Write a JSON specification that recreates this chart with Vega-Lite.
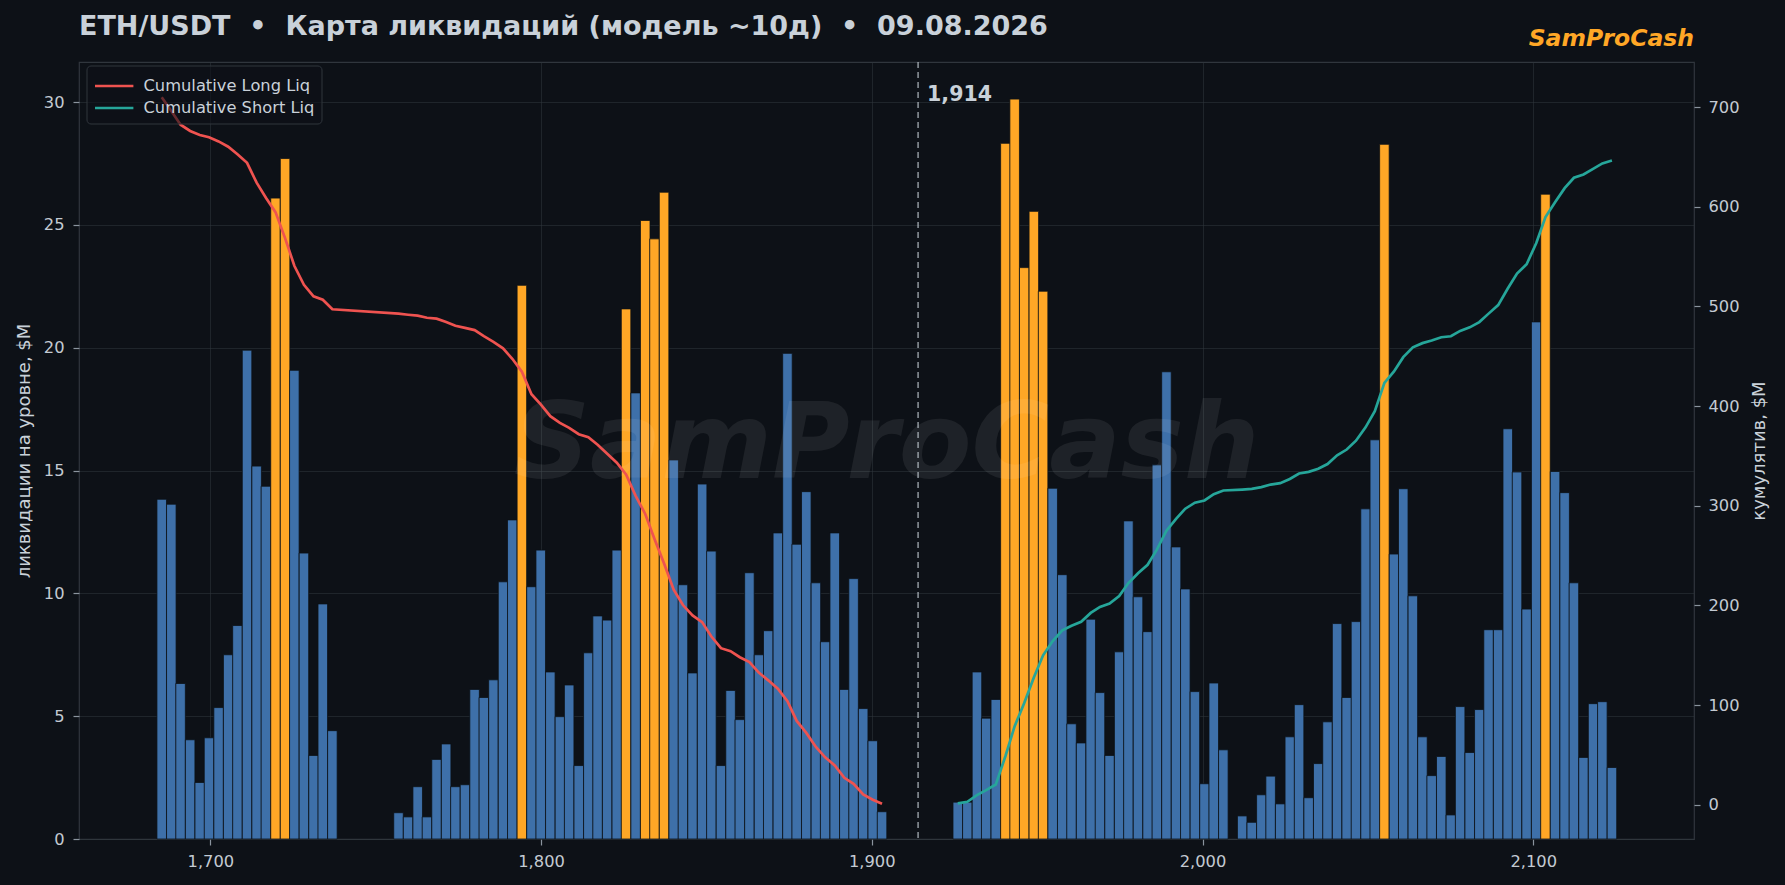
{
  "$schema": "https://vega.github.io/schema/vega-lite/v6.json",
  "width": 1615,
  "height": 777,
  "autosize": {"type": "none"},
  "padding": {"left": 79, "top": 62, "right": 91, "bottom": 46},
  "background": "#0d1117",
  "datasets": {
    "bins": [
      {"price": 1685.3, "liq": 13.83, "cum": 709.81, "series": "Cumulative Long Liq"},
      {"price": 1688.2, "liq": 13.63, "cum": 695.98, "series": "Cumulative Long Liq"},
      {"price": 1691.0, "liq": 6.33, "cum": 682.35, "series": "Cumulative Long Liq"},
      {"price": 1693.9, "liq": 4.04, "cum": 676.02, "series": "Cumulative Long Liq"},
      {"price": 1696.8, "liq": 2.30, "cum": 671.98, "series": "Cumulative Long Liq"},
      {"price": 1699.6, "liq": 4.12, "cum": 669.68, "series": "Cumulative Long Liq"},
      {"price": 1702.5, "liq": 5.35, "cum": 665.56, "series": "Cumulative Long Liq"},
      {"price": 1705.4, "liq": 7.50, "cum": 660.21, "series": "Cumulative Long Liq"},
      {"price": 1708.2, "liq": 8.69, "cum": 652.71, "series": "Cumulative Long Liq"},
      {"price": 1711.1, "liq": 19.90, "cum": 644.02, "series": "Cumulative Long Liq"},
      {"price": 1714.0, "liq": 15.18, "cum": 624.12, "series": "Cumulative Long Liq"},
      {"price": 1716.8, "liq": 14.36, "cum": 608.94, "series": "Cumulative Long Liq"},
      {"price": 1719.7, "liq": 26.09, "cum": 594.58, "series": "Cumulative Long Liq"},
      {"price": 1722.6, "liq": 27.70, "cum": 568.49, "series": "Cumulative Long Liq"},
      {"price": 1725.4, "liq": 19.08, "cum": 540.79, "series": "Cumulative Long Liq"},
      {"price": 1728.3, "liq": 11.64, "cum": 521.71, "series": "Cumulative Long Liq"},
      {"price": 1731.2, "liq": 3.40, "cum": 510.07, "series": "Cumulative Long Liq"},
      {"price": 1734.0, "liq": 9.57, "cum": 506.67, "series": "Cumulative Long Liq"},
      {"price": 1736.9, "liq": 4.41, "cum": 497.10, "series": "Cumulative Long Liq"},
      {"price": 1756.9, "liq": 1.07, "cum": 492.69, "series": "Cumulative Long Liq"},
      {"price": 1759.8, "liq": 0.90, "cum": 491.62, "series": "Cumulative Long Liq"},
      {"price": 1762.7, "liq": 2.13, "cum": 490.72, "series": "Cumulative Long Liq"},
      {"price": 1765.5, "liq": 0.90, "cum": 488.59, "series": "Cumulative Long Liq"},
      {"price": 1768.4, "liq": 3.24, "cum": 487.69, "series": "Cumulative Long Liq"},
      {"price": 1771.3, "liq": 3.87, "cum": 484.45, "series": "Cumulative Long Liq"},
      {"price": 1774.1, "liq": 2.13, "cum": 480.58, "series": "Cumulative Long Liq"},
      {"price": 1777.0, "liq": 2.21, "cum": 478.45, "series": "Cumulative Long Liq"},
      {"price": 1779.9, "liq": 6.09, "cum": 476.24, "series": "Cumulative Long Liq"},
      {"price": 1782.7, "liq": 5.76, "cum": 470.15, "series": "Cumulative Long Liq"},
      {"price": 1785.6, "liq": 6.48, "cum": 464.39, "series": "Cumulative Long Liq"},
      {"price": 1788.5, "liq": 10.47, "cum": 457.91, "series": "Cumulative Long Liq"},
      {"price": 1791.3, "liq": 12.99, "cum": 447.44, "series": "Cumulative Long Liq"},
      {"price": 1794.2, "liq": 22.54, "cum": 434.45, "series": "Cumulative Long Liq"},
      {"price": 1797.1, "liq": 10.27, "cum": 411.91, "series": "Cumulative Long Liq"},
      {"price": 1799.9, "liq": 11.76, "cum": 401.64, "series": "Cumulative Long Liq"},
      {"price": 1802.8, "liq": 6.80, "cum": 389.88, "series": "Cumulative Long Liq"},
      {"price": 1805.7, "liq": 4.98, "cum": 383.08, "series": "Cumulative Long Liq"},
      {"price": 1808.5, "liq": 6.27, "cum": 378.10, "series": "Cumulative Long Liq"},
      {"price": 1811.4, "liq": 2.99, "cum": 371.83, "series": "Cumulative Long Liq"},
      {"price": 1814.3, "liq": 7.58, "cum": 368.84, "series": "Cumulative Long Liq"},
      {"price": 1817.1, "liq": 9.08, "cum": 361.26, "series": "Cumulative Long Liq"},
      {"price": 1820.0, "liq": 8.91, "cum": 352.18, "series": "Cumulative Long Liq"},
      {"price": 1822.9, "liq": 11.76, "cum": 343.27, "series": "Cumulative Long Liq"},
      {"price": 1825.7, "liq": 21.58, "cum": 331.51, "series": "Cumulative Long Liq"},
      {"price": 1828.6, "liq": 18.16, "cum": 309.93, "series": "Cumulative Long Liq"},
      {"price": 1831.5, "liq": 25.18, "cum": 291.77, "series": "Cumulative Long Liq"},
      {"price": 1834.3, "liq": 24.43, "cum": 266.59, "series": "Cumulative Long Liq"},
      {"price": 1837.2, "liq": 26.33, "cum": 242.16, "series": "Cumulative Long Liq"},
      {"price": 1840.1, "liq": 15.43, "cum": 215.83, "series": "Cumulative Long Liq"},
      {"price": 1842.9, "liq": 10.35, "cum": 200.40, "series": "Cumulative Long Liq"},
      {"price": 1845.8, "liq": 6.76, "cum": 190.05, "series": "Cumulative Long Liq"},
      {"price": 1848.7, "liq": 14.45, "cum": 183.29, "series": "Cumulative Long Liq"},
      {"price": 1851.5, "liq": 11.72, "cum": 168.84, "series": "Cumulative Long Liq"},
      {"price": 1854.4, "liq": 2.99, "cum": 157.12, "series": "Cumulative Long Liq"},
      {"price": 1857.3, "liq": 6.05, "cum": 154.13, "series": "Cumulative Long Liq"},
      {"price": 1860.1, "liq": 4.86, "cum": 148.08, "series": "Cumulative Long Liq"},
      {"price": 1863.0, "liq": 10.84, "cum": 143.22, "series": "Cumulative Long Liq"},
      {"price": 1865.9, "liq": 7.50, "cum": 132.38, "series": "Cumulative Long Liq"},
      {"price": 1868.7, "liq": 8.48, "cum": 124.88, "series": "Cumulative Long Liq"},
      {"price": 1871.6, "liq": 12.46, "cum": 116.40, "series": "Cumulative Long Liq"},
      {"price": 1874.5, "liq": 19.77, "cum": 103.94, "series": "Cumulative Long Liq"},
      {"price": 1877.3, "liq": 12.00, "cum": 84.17, "series": "Cumulative Long Liq"},
      {"price": 1880.2, "liq": 14.14, "cum": 72.17, "series": "Cumulative Long Liq"},
      {"price": 1883.1, "liq": 10.43, "cum": 58.03, "series": "Cumulative Long Liq"},
      {"price": 1885.9, "liq": 8.03, "cum": 47.60, "series": "Cumulative Long Liq"},
      {"price": 1888.8, "liq": 12.46, "cum": 39.57, "series": "Cumulative Long Liq"},
      {"price": 1891.7, "liq": 6.09, "cum": 27.11, "series": "Cumulative Long Liq"},
      {"price": 1894.5, "liq": 10.60, "cum": 21.02, "series": "Cumulative Long Liq"},
      {"price": 1897.4, "liq": 5.31, "cum": 10.42, "series": "Cumulative Long Liq"},
      {"price": 1900.3, "liq": 4.00, "cum": 5.11, "series": "Cumulative Long Liq"},
      {"price": 1903.1, "liq": 1.11, "cum": 1.11, "series": "Cumulative Long Liq"},
      {"price": 1926.0, "liq": 1.50, "cum": 1.50, "series": "Cumulative Short Liq"},
      {"price": 1928.9, "liq": 1.50, "cum": 3.00, "series": "Cumulative Short Liq"},
      {"price": 1931.8, "liq": 6.80, "cum": 9.80, "series": "Cumulative Short Liq"},
      {"price": 1934.6, "liq": 4.92, "cum": 14.72, "series": "Cumulative Short Liq"},
      {"price": 1937.5, "liq": 5.68, "cum": 20.40, "series": "Cumulative Short Liq"},
      {"price": 1940.4, "liq": 28.32, "cum": 48.72, "series": "Cumulative Short Liq"},
      {"price": 1943.2, "liq": 30.12, "cum": 78.84, "series": "Cumulative Short Liq"},
      {"price": 1946.1, "liq": 23.26, "cum": 102.10, "series": "Cumulative Short Liq"},
      {"price": 1949.0, "liq": 25.55, "cum": 127.65, "series": "Cumulative Short Liq"},
      {"price": 1951.8, "liq": 22.30, "cum": 149.95, "series": "Cumulative Short Liq"},
      {"price": 1954.7, "liq": 14.28, "cum": 164.23, "series": "Cumulative Short Liq"},
      {"price": 1957.6, "liq": 10.76, "cum": 174.99, "series": "Cumulative Short Liq"},
      {"price": 1960.4, "liq": 4.69, "cum": 179.68, "series": "Cumulative Short Liq"},
      {"price": 1963.3, "liq": 3.91, "cum": 183.59, "series": "Cumulative Short Liq"},
      {"price": 1966.2, "liq": 8.95, "cum": 192.54, "series": "Cumulative Short Liq"},
      {"price": 1969.0, "liq": 5.96, "cum": 198.50, "series": "Cumulative Short Liq"},
      {"price": 1971.9, "liq": 3.40, "cum": 201.90, "series": "Cumulative Short Liq"},
      {"price": 1974.8, "liq": 7.62, "cum": 209.52, "series": "Cumulative Short Liq"},
      {"price": 1977.6, "liq": 12.95, "cum": 222.47, "series": "Cumulative Short Liq"},
      {"price": 1980.5, "liq": 9.86, "cum": 232.33, "series": "Cumulative Short Liq"},
      {"price": 1983.4, "liq": 8.44, "cum": 240.77, "series": "Cumulative Short Liq"},
      {"price": 1986.2, "liq": 15.23, "cum": 256.00, "series": "Cumulative Short Liq"},
      {"price": 1989.1, "liq": 19.02, "cum": 275.02, "series": "Cumulative Short Liq"},
      {"price": 1992.0, "liq": 11.89, "cum": 286.91, "series": "Cumulative Short Liq"},
      {"price": 1994.8, "liq": 10.18, "cum": 297.09, "series": "Cumulative Short Liq"},
      {"price": 1997.7, "liq": 6.00, "cum": 303.09, "series": "Cumulative Short Liq"},
      {"price": 2000.6, "liq": 2.25, "cum": 305.34, "series": "Cumulative Short Liq"},
      {"price": 2003.4, "liq": 6.35, "cum": 311.69, "series": "Cumulative Short Liq"},
      {"price": 2006.3, "liq": 3.63, "cum": 315.32, "series": "Cumulative Short Liq"},
      {"price": 2012.0, "liq": 0.94, "cum": 316.26, "series": "Cumulative Short Liq"},
      {"price": 2014.9, "liq": 0.68, "cum": 316.94, "series": "Cumulative Short Liq"},
      {"price": 2017.8, "liq": 1.80, "cum": 318.74, "series": "Cumulative Short Liq"},
      {"price": 2020.6, "liq": 2.56, "cum": 321.30, "series": "Cumulative Short Liq"},
      {"price": 2023.5, "liq": 1.43, "cum": 322.73, "series": "Cumulative Short Liq"},
      {"price": 2026.4, "liq": 4.16, "cum": 326.89, "series": "Cumulative Short Liq"},
      {"price": 2029.2, "liq": 5.47, "cum": 332.36, "series": "Cumulative Short Liq"},
      {"price": 2032.1, "liq": 1.68, "cum": 334.04, "series": "Cumulative Short Liq"},
      {"price": 2035.0, "liq": 3.07, "cum": 337.11, "series": "Cumulative Short Liq"},
      {"price": 2037.8, "liq": 4.77, "cum": 341.88, "series": "Cumulative Short Liq"},
      {"price": 2040.7, "liq": 8.77, "cum": 350.65, "series": "Cumulative Short Liq"},
      {"price": 2043.6, "liq": 5.76, "cum": 356.41, "series": "Cumulative Short Liq"},
      {"price": 2046.4, "liq": 8.85, "cum": 365.26, "series": "Cumulative Short Liq"},
      {"price": 2049.3, "liq": 13.44, "cum": 378.70, "series": "Cumulative Short Liq"},
      {"price": 2052.1, "liq": 16.25, "cum": 394.95, "series": "Cumulative Short Liq"},
      {"price": 2055.0, "liq": 28.28, "cum": 423.23, "series": "Cumulative Short Liq"},
      {"price": 2057.9, "liq": 11.60, "cum": 434.83, "series": "Cumulative Short Liq"},
      {"price": 2060.7, "liq": 14.26, "cum": 449.09, "series": "Cumulative Short Liq"},
      {"price": 2063.6, "liq": 9.90, "cum": 458.99, "series": "Cumulative Short Liq"},
      {"price": 2066.5, "liq": 4.16, "cum": 463.15, "series": "Cumulative Short Liq"},
      {"price": 2069.3, "liq": 2.58, "cum": 465.73, "series": "Cumulative Short Liq"},
      {"price": 2072.2, "liq": 3.36, "cum": 469.09, "series": "Cumulative Short Liq"},
      {"price": 2075.1, "liq": 0.98, "cum": 470.07, "series": "Cumulative Short Liq"},
      {"price": 2077.9, "liq": 5.39, "cum": 475.46, "series": "Cumulative Short Liq"},
      {"price": 2080.8, "liq": 3.52, "cum": 478.98, "series": "Cumulative Short Liq"},
      {"price": 2083.7, "liq": 5.27, "cum": 484.25, "series": "Cumulative Short Liq"},
      {"price": 2086.5, "liq": 8.52, "cum": 492.77, "series": "Cumulative Short Liq"},
      {"price": 2089.4, "liq": 8.52, "cum": 501.29, "series": "Cumulative Short Liq"},
      {"price": 2092.3, "liq": 16.70, "cum": 517.99, "series": "Cumulative Short Liq"},
      {"price": 2095.1, "liq": 14.94, "cum": 532.93, "series": "Cumulative Short Liq"},
      {"price": 2098.0, "liq": 9.36, "cum": 542.29, "series": "Cumulative Short Liq"},
      {"price": 2100.9, "liq": 21.05, "cum": 563.34, "series": "Cumulative Short Liq"},
      {"price": 2103.7, "liq": 26.25, "cum": 589.59, "series": "Cumulative Short Liq"},
      {"price": 2106.6, "liq": 14.96, "cum": 604.55, "series": "Cumulative Short Liq"},
      {"price": 2109.5, "liq": 14.10, "cum": 618.65, "series": "Cumulative Short Liq"},
      {"price": 2112.3, "liq": 10.43, "cum": 629.08, "series": "Cumulative Short Liq"},
      {"price": 2115.2, "liq": 3.32, "cum": 632.40, "series": "Cumulative Short Liq"},
      {"price": 2118.1, "liq": 5.51, "cum": 637.91, "series": "Cumulative Short Liq"},
      {"price": 2120.9, "liq": 5.59, "cum": 643.50, "series": "Cumulative Short Liq"},
      {"price": 2123.8, "liq": 2.91, "cum": 646.41, "series": "Cumulative Short Liq"}
    ],
    "now": [{"price": 1914, "label": "1,914"}]
  },
  "data": {"name": "bins"},
  "layer": [
    {
      "layer": [
        {
          "mark": {"type": "bar", "width": 9.54, "stroke": "#0d1117", "strokeWidth": 0.8},
          "encoding": {
            "x": {
              "field": "price",
              "type": "quantitative",
              "scale": {"domain": [1661.8, 2147.1], "nice": false, "zero": false},
              "axis": {"values": [1700, 1800, 1900, 2000, 2100], "labelExpr": "format(datum.value, ',')", "title": null, "grid": true}
            },
            "y": {
              "field": "liq",
              "type": "quantitative",
              "scale": {"domain": [0, 31.63], "nice": false},
              "axis": {"values": [0, 5, 10, 15, 20, 25, 30], "title": "ликвидации на уровне, $M", "titlePadding": 10, "labelPadding": 9, "grid": true}
            },
            "color": {
              "condition": {"test": "datum.liq > 21.3", "value": "#ffa726"},
              "value": "#3e70a9"
            }
          }
        },
        {
          "data": {"values": [{"text": "SamProCash"}]},
          "mark": {"type": "text", "align": "center", "baseline": "middle", "fontSize": 106, "fontWeight": "bold", "fontStyle": "italic", "color": "#ffffff", "opacity": 0.07},
          "encoding": {
            "x": {"datum": 1904.45, "type": "quantitative", "title": null},
            "y": {"datum": 16, "type": "quantitative", "title": null},
            "text": {"field": "text"}
          }
        },
        {
          "data": {"name": "now"},
          "mark": {"type": "rule", "color": "#c9d1d9", "opacity": 0.75, "strokeDash": [6, 4], "strokeWidth": 1.4},
          "encoding": {
            "x": {"field": "price", "type": "quantitative"}
          }
        },
        {
          "data": {"name": "now"},
          "mark": {"type": "text", "align": "left", "baseline": "alphabetic", "dx": 9, "fontSize": 20.5, "fontWeight": "bold", "color": "#c9d1d9"},
          "encoding": {
            "x": {"field": "price", "type": "quantitative"},
            "y": {"datum": 30.05, "type": "quantitative", "title": null},
            "text": {"field": "label"}
          }
        },
        {
          "data": {"values": [{"text": "ETH/USDT \u00a0•\u00a0 Карта ликвидаций (модель ~10д) \u00a0•\u00a0 09.08.2026"}]},
          "mark": {"type": "text", "align": "left", "baseline": "alphabetic", "dx": -5, "dy": -27.4, "fontSize": 27, "fontWeight": "bold", "color": "#c9d1d9"},
          "encoding": {
            "x": {"datum": 1661.8, "type": "quantitative", "title": null},
            "y": {"datum": 31.63, "type": "quantitative", "title": null},
            "text": {"field": "text"}
          }
        },
        {
          "data": {"values": [{"text": "SamProCash"}]},
          "mark": {"type": "text", "align": "right", "baseline": "alphabetic", "dx": 5, "dy": -16, "fontSize": 23.5, "fontWeight": "bold", "fontStyle": "italic", "color": "#ffa726"},
          "encoding": {
            "x": {"datum": 2147.1, "type": "quantitative", "title": null},
            "y": {"datum": 31.63, "type": "quantitative", "title": null},
            "text": {"field": "text"}
          }
        }
      ]
    },
    {
      "mark": {"type": "line", "strokeWidth": 2.7},
      "encoding": {
        "x": {"field": "price", "type": "quantitative"},
        "y": {
          "field": "cum",
          "type": "quantitative",
          "scale": {"domain": [-34.3, 745.2], "nice": false, "zero": false},
          "axis": {"orient": "right", "values": [0, 100, 200, 300, 400, 500, 600, 700], "labelExpr": "format(datum.value, 'd')", "title": "кумулятив, $M", "titleAngle": 270, "titlePadding": 29, "labelPadding": 8, "grid": false}
        },
        "color": {
          "field": "series",
          "type": "nominal",
          "scale": {"domain": ["Cumulative Long Liq", "Cumulative Short Liq"], "range": ["#ef5350", "#26a69a"]},
          "legend": {
            "title": null,
            "orient": "none",
            "legendX": 7.5,
            "legendY": 3.5,
            "padding": 7,
            "fillColor": "rgba(13,17,23,0.6)",
            "strokeColor": "#30363d",
            "cornerRadius": 4,
            "symbolType": "M-1,0H2.2",
            "symbolSize": 576,
            "symbolStrokeWidth": 2.6,
            "labelFontSize": 16.3,
            "labelColor": "#c9d1d9",
            "labelOffset": 23,
            "labelLimit": 0,
            "rowPadding": 0
          }
        }
      }
    }
  ],
  "resolve": {"scale": {"y": "independent"}},
  "config": {
    "font": "DejaVu Sans",
    "view": {"stroke": "#30363d", "strokeWidth": 1.2},
    "axis": {
      "domain": false,
      "labelColor": "#c3cad2",
      "labelFontSize": 16.3,
      "labelPadding": 8,
      "tickColor": "#8b949e",
      "tickSize": 6,
      "tickWidth": 1.2,
      "gridColor": "#30363d",
      "gridOpacity": 0.55,
      "gridWidth": 1,
      "titleColor": "#c9d1d9",
      "titleFontSize": 18,
      "titleFontWeight": "normal",
      "zindex": 1
    },
    "legend": {"labelFont": "DejaVu Sans"}
  }
}
